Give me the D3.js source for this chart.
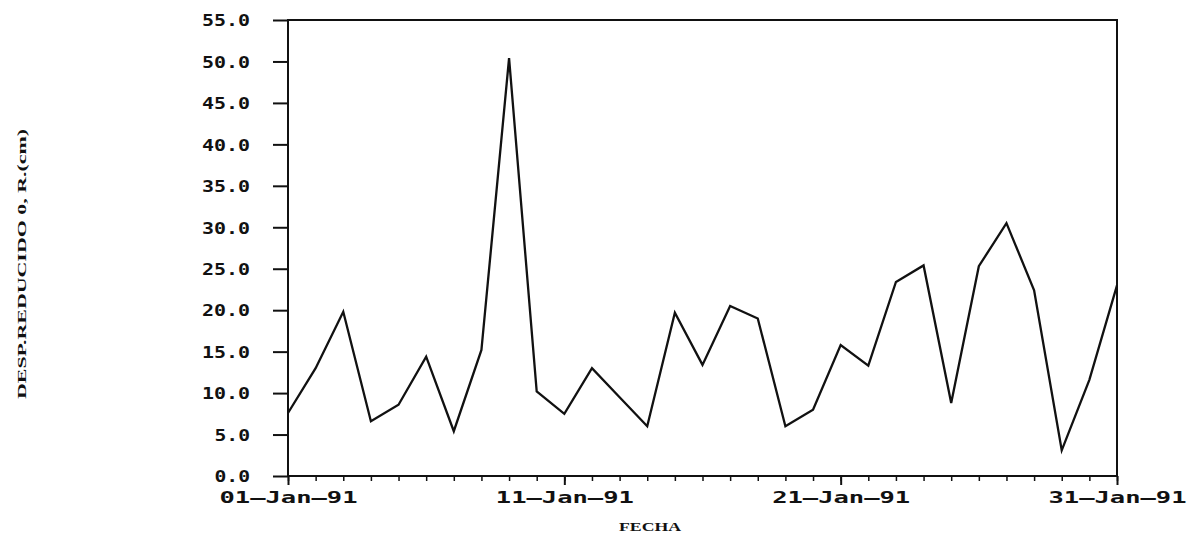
<!DOCTYPE html>
<html>
<head>
<meta charset="utf-8">
<script src="https://cdn.jsdelivr.net/npm/d3@7"></script>
<style>
  html, body { margin: 0; padding: 0; background: #fff; }
  svg { display: block; }
</style>
</head>
<body>
<svg id="chart" width="1188" height="538"></svg>
<script>
// ---- data ----
const days = d3.range(1, 32); // 1..31 January 1991
const values = [7.6, 13.0, 19.8, 6.6, 8.6, 14.4, 5.4, 15.2, 50.4, 10.2,
                7.5, 13.0, 9.5, 6.0, 19.7, 13.4, 20.5, 19.0, 6.0, 8.0,
                15.8, 13.3, 23.4, 25.4, 8.8, 25.3, 30.5, 22.4, 3.1, 11.6, 23.0];
const yTicks = [0, 5, 10, 15, 20, 25, 30, 35, 40, 45, 50, 55];
const xTickDays = [1, 11, 21, 31];
const xTickLabels = ["01—Jan—91", "11—Jan—91", "21—Jan—91", "31—Jan—91"];
const xTitle = "FECHA";
const yTitle = "DESP.REDUCIDO 0, R.(cm)";

// ---- layout ----
const L = 288, R = 1117, T = 20, B = 476;
const svg = d3.select("#chart");
const x = d3.scaleLinear().domain([1, 31]).range([L, R]);
const y = d3.scaleLinear().domain([0, 55]).range([B, T]);

const ink = "#111";
const monoFont = "'DejaVu Sans Mono', 'Liberation Mono', monospace";
const serifFont = "'Liberation Serif', 'DejaVu Serif', serif";

// frame
svg.append("rect")
  .attr("x", L).attr("y", T).attr("width", R - L).attr("height", B - T)
  .attr("fill", "none").attr("stroke", ink).attr("stroke-width", 2);

// y axis ticks (outward) and labels
const yAxis = d3.axisLeft(y).tickValues(yTicks).tickSize(15).tickFormat(d3.format(".1f"));
const gy = svg.append("g").attr("transform", `translate(${L},0)`).call(yAxis);
gy.select(".domain").remove();
gy.selectAll(".tick line").attr("stroke", ink).attr("stroke-width", 2);
gy.selectAll(".tick text")
  .attr("x", -38)
  .attr("dy", "0.36em")
  .attr("fill", ink)
  .attr("font-family", monoFont)
  .attr("font-weight", "bold")
  .attr("font-size", 16)
  .attr("textLength", d => d3.format(".1f")(d).length * 12.5 - 2)
  .attr("lengthAdjust", "spacingAndGlyphs");

// x axis minor ticks
const xAxisMinor = d3.axisBottom(x).tickValues(days).tickSize(5).tickFormat("");
const gxm = svg.append("g").attr("transform", `translate(0,${B})`).call(xAxisMinor);
gxm.select(".domain").remove();
gxm.selectAll(".tick line").attr("stroke", ink).attr("stroke-width", 1.5);

// x axis major ticks + labels
const xAxis = d3.axisBottom(x).tickValues(xTickDays).tickSize(9)
  .tickFormat((d, i) => xTickLabels[i]);
const gx = svg.append("g").attr("transform", `translate(0,${B})`).call(xAxis);
gx.select(".domain").remove();
gx.selectAll(".tick line").attr("stroke", ink).attr("stroke-width", 2);
gx.selectAll(".tick text")
  .attr("y", 16)
  .attr("fill", ink)
  .attr("font-family", monoFont)
  .attr("font-weight", "bold")
  .attr("font-size", 16)
  .attr("textLength", 138)
  .attr("lengthAdjust", "spacingAndGlyphs");

// data line
const line = d3.line().x((d, i) => x(days[i])).y(d => y(d));
svg.append("path")
  .datum(values)
  .attr("d", line)
  .attr("fill", "none")
  .attr("stroke", ink)
  .attr("stroke-width", 2.3)
  .attr("stroke-linejoin", "miter");

// axis titles
svg.append("text")
  .attr("x", 650).attr("y", 531)
  .attr("text-anchor", "middle")
  .attr("font-family", serifFont)
  .attr("font-weight", "bold")
  .attr("font-size", 13)
  .attr("fill", ink)
  .attr("textLength", 62)
  .attr("lengthAdjust", "spacingAndGlyphs")
  .text(xTitle);

svg.append("text")
  .attr("transform", "translate(26,264) rotate(-90)")
  .attr("text-anchor", "middle")
  .attr("font-family", serifFont)
  .attr("font-weight", "bold")
  .attr("font-size", 13)
  .attr("fill", ink)
  .attr("textLength", 270)
  .attr("lengthAdjust", "spacingAndGlyphs")
  .text(yTitle);
</script>
</body>
</html>
